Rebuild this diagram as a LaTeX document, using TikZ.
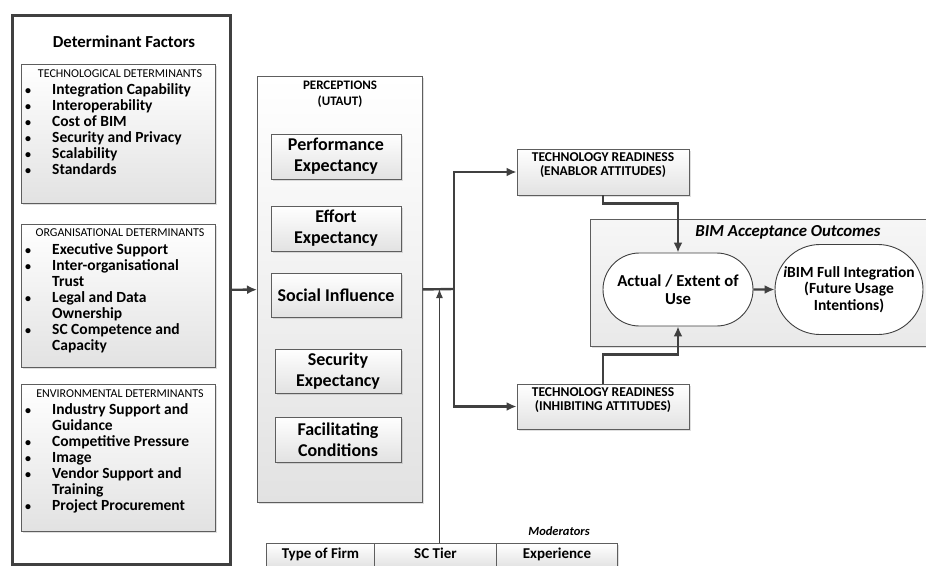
\documentclass[tikz,border=0pt]{standalone}
\usepackage{fontspec}
\setmainfont{Carlito}
\usetikzlibrary{positioning,shadows,shapes.misc,arrows.meta}
\definecolor{linegray}{HTML}{404040}
\definecolor{boxgray}{HTML}{5E5E5E}
\definecolor{shadegray}{HTML}{E2E2E2}
\definecolor{outgray}{HTML}{E9E9E9}
\newcommand\blt{{\fontsize{12}{16}\selectfont\textbullet}}

\begin{document}
\begin{tikzpicture}[x=1pt,y=-1pt,
    line/.style={draw=linegray,line width=2.4pt},
    arr/.style={line,-{Latex[length=10pt,width=9pt]}},
    box/.style={draw=boxgray,line width=0.9pt,top color=white,bottom color=shadegray,
      drop shadow={shadow xshift=1.5pt,shadow yshift=-1.5pt,opacity=0.25},
      anchor=north west,inner sep=0pt},
    cattitle/.style={font=\fontsize{12}{14}\selectfont},
    itemlist/.style={anchor=north west,inner sep=0pt,font=\fontsize{15.5}{16}\selectfont\bfseries},
    factor/.style={box,anchor=center,align=center,font=\fontsize{18}{21}\selectfont\bfseries},
    trtext/.style={inner sep=0pt,align=center,font=\fontsize{13.5}{14}\selectfont\bfseries},
    outcome/.style={draw=linegray,line width=0.9pt,fill=white,rounded rectangle,
      align=center,inner sep=0pt},
    cell/.style={box,text height=10pt,text depth=3pt,font=\fontsize{15}{17}\selectfont\bfseries}]
  \useasboundingbox (0,0) rectangle (926,565);

  % determinant factors
  \node[draw=linegray,line width=3pt,fill=white,anchor=north west,
        minimum width=218pt,minimum height=549pt] (factors) at (11,14) {};
  \node[font=\fontsize{16.8}{18}\selectfont\bfseries] (dftitle) at (124,42) {Determinant Factors};

  \node[box,minimum width=194pt,minimum height=139pt] (tech) at (21,64) {};
  \node[cattitle] (techtitle) at (120,74) {TECHNOLOGICAL DETERMINANTS};
  \node[itemlist] (techlist) at (25,83) {\begin{tabular}{@{}p{27pt}@{}l@{}}
      \blt & Integration Capability\\
      \blt & Interoperability\\
      \blt & Cost of BIM\\
      \blt & Security and Privacy\\
      \blt & Scalability\\
      \blt & Standards
    \end{tabular}};

  \node[box,minimum width=194pt,minimum height=143pt] (org) at (21,224) {};
  \node[cattitle] (orgtitle) at (120,233) {ORGANISATIONAL DETERMINANTS};
  \node[itemlist] (orglist) at (25,243) {\begin{tabular}{@{}p{27pt}@{}l@{}}
      \blt & Executive Support\\
      \blt & Inter-organisational\\
           & Trust\\
      \blt & Legal and Data\\
           & Ownership\\
      \blt & SC Competence and\\
           & Capacity
    \end{tabular}};

  \node[box,minimum width=194pt,minimum height=147pt] (env) at (21,384) {};
  \node[cattitle] (envtitle) at (120,394) {ENVIRONMENTAL DETERMINANTS};
  \node[itemlist] (envlist) at (25,403) {\begin{tabular}{@{}p{27pt}@{}l@{}}
      \blt & Industry Support and\\
           & Guidance\\
      \blt & Competitive Pressure\\
      \blt & Image\\
      \blt & Vendor Support and\\
           & Training\\
      \blt & Project Procurement
    \end{tabular}};

  % perceptions
  \node[box,minimum width=165pt,minimum height=426pt] (percep) at (257,76) {};
  \node[align=center,font=\fontsize{13}{16}\selectfont\bfseries] (perceptitle) at (340,94)
    {PERCEPTIONS\\(UTAUT)};
  \node[factor,minimum width=130pt,minimum height=45pt] (perf) at (336,156.5) {Performance\\Expectancy};
  \node[factor,minimum width=130pt,minimum height=45pt] (effort) at (336,228.5) {Effort\\Expectancy};
  \node[factor,minimum width=130pt,minimum height=44pt] (social) at (336,295) {Social Influence};
  \node[factor,minimum width=126pt,minimum height=44pt] (secur) at (338,371) {Security\\Expectancy};
  \node[factor,minimum width=126pt,minimum height=45pt] (facil) at (338,439.5) {Facilitating\\Conditions};

  % technology readiness
  \node[box,anchor=center,minimum width=172pt,minimum height=46pt] (enab) at (603,172) {};
  \node[trtext,below=4pt of enab.north] (enabtext) {TECHNOLOGY READINESS\\(ENABLOR ATTITUDES)};
  \node[box,anchor=center,minimum width=172pt,minimum height=45pt] (inhib) at (603,406.5) {};
  \node[trtext,below=4pt of inhib.north] (inhibtext) {TECHNOLOGY READINESS\\(INHIBITING ATTITUDES)};

  % outcomes
  \node[box,top color=white!60!outgray,bottom color=outgray,
        minimum width=338pt,minimum height=127pt] (outcomes) at (590,219) {};
  \node[font=\fontsize{16.8}{18}\selectfont\bfseries\itshape] (outtitle) at (788,232)
    {BIM Acceptance Outcomes};
  \node[outcome,minimum width=150pt,minimum height=73pt,font=\fontsize{16.7}{18}\selectfont\bfseries]
    (actual) at (678,289.5) {Actual / Extent of\\Use};
  \node[outcome,minimum width=148pt,minimum height=90pt,font=\fontsize{15.5}{16.5}\selectfont\bfseries]
    (ibim) at (849,289.5) {\textit{i}BIM Full Integration\\(Future Usage\\Intentions)};

  % moderators
  \node[font=\fontsize{12.5}{14}\selectfont\bfseries\itshape] (modtitle) at (559,531) {Moderators};
  \node[cell,minimum width=108pt,minimum height=24pt] (firm) at (266,543) {Type of Firm};
  \node[cell,minimum width=122pt,minimum height=24pt] (tier) at (374,543) {SC Tier};
  \node[cell,minimum width=121pt,minimum height=24pt] (exper) at (496,543) {Experience};

  % connectors
  \coordinate (split) at (454,289);
  \coordinate (modin) at ([xshift=4pt]tier.north);
  \draw[arr] (factors) -- (percep);
  \draw[line] (percep.east) -- (split);
  \draw[arr] (split) |- (enab);
  \draw[arr] (split) |- (inhib);
  \draw[draw=linegray,line width=1.2pt,-{Latex[length=9pt,width=7pt]}] (modin) -- (modin |- split);
  \draw[arr] (enab.south) -- ++(0,8) -| (actual.north);
  \draw[arr] (inhib.north) -- ++(0,-29) -| (actual.south);
  \draw[arr] (actual) -- (ibim);
\end{tikzpicture}
\end{document}
